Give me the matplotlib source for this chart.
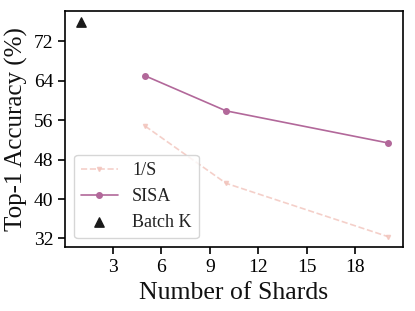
import matplotlib
matplotlib.use("Agg")
import matplotlib.pyplot as plt
import seaborn as sns

shards = [5, 10, 20]
inv_s = [54.8, 43.2, 32.4]
sisa = [65.0, 57.9, 51.4]
batch_k_x = [1]
batch_k_y = [76.0]

sns.set_style("ticks")
plt.rcParams['font.family'] = ['Liberation Serif', 'DejaVu Serif']

fig, ax = plt.subplots(figsize=(4.15, 3.11), dpi=100)
ax.plot(shards, inv_s, color='#f2c4bc', linestyle='--', marker='v',
        markersize=3, linewidth=1.2, alpha=0.8, label='1/S')
ax.plot(shards, sisa, color='#b2689a', linestyle='-', marker='o',
        markersize=4, linewidth=1.2, label='SISA')
ax.scatter(batch_k_x, batch_k_y, color='#1a1a1a', marker='^', s=45,
           label='Batch K', zorder=3)

ax.set_xticks([3, 6, 9, 12, 15, 18])
ax.set_yticks([32, 40, 48, 56, 64, 72])
ax.tick_params(labelsize=14, colors='black', length=5, width=1.2)
for sp in ax.spines.values():
    sp.set_color('black')
    sp.set_linewidth(1.2)
ax.set_xlabel('Number of Shards', fontsize=18.5, color='#111111')
ax.set_ylabel('Top-1 Accuracy (%)', fontsize=18, color='#111111')
leg = ax.legend(fontsize=13, loc='lower left', bbox_to_anchor=(0.0, 0.0))
for t in leg.get_texts():
    t.set_color('#222222')

fig.subplots_adjust(left=0.157, right=0.971, top=0.965, bottom=0.205)
fig.savefig('out.png', dpi=100)
